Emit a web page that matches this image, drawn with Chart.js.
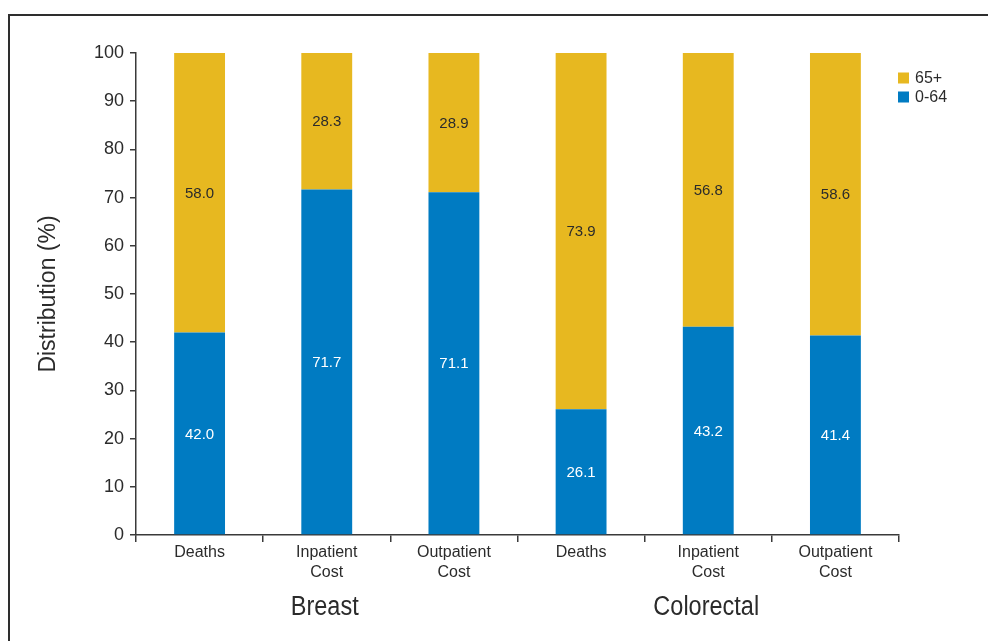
<!DOCTYPE html>
<html>
<head>
<meta charset="utf-8">
<script src="https://cdn.jsdelivr.net/npm/chart.js@4.4.1/dist/chart.umd.min.js"></script>
<style>
  html, body { margin: 0; padding: 0; background: #fff; }
  #wrap { width: 988px; height: 641px; position: relative; }
</style>
</head>
<body>
<div id="wrap"><canvas id="c" width="988" height="641"></canvas></div>
<script>
// Categories along the x axis (two-line labels)
const categories = [
  ['Deaths'], ['Inpatient', 'Cost'], ['Outpatient', 'Cost'],
  ['Deaths'], ['Inpatient', 'Cost'], ['Outpatient', 'Cost']
];
// Cancer site groups, each spanning three categories
const groups = ['Breast', 'Colorectal'];
const groupSize = 3;

// Share by age band (%)
const age0to64 = [42.0, 71.7, 71.1, 26.1, 43.2, 41.4];
const age65plus = [58.0, 28.3, 28.9, 73.9, 56.8, 58.6];

const yTicks = [0, 10, 20, 30, 40, 50, 60, 70, 80, 90, 100];

const BLUE = '#007BC2';
const GOLD = '#E7B820';
const AXIS = '#3a3a3a';
const TEXT = '#2b2b2b';
const SANS = '"Liberation Sans", Arial, Helvetica, sans-serif';

// Outer frame (top and left rules)
const framePlugin = {
  id: 'frame',
  beforeDraw(chart) {
    const ctx = chart.ctx;
    ctx.save();
    ctx.strokeStyle = '#2e2e2e';
    ctx.lineWidth = 2;
    ctx.beginPath();
    ctx.moveTo(9, 641);
    ctx.lineTo(9, 15);
    ctx.lineTo(988, 15);
    ctx.stroke();
    ctx.restore();
  }
};

// Value labels centered in each stacked segment
const valueLabels = {
  id: 'valueLabels',
  afterDatasetsDraw(chart) {
    const ctx = chart.ctx;
    ctx.save();
    ctx.font = '15px ' + SANS;
    ctx.textAlign = 'center';
    ctx.textBaseline = 'middle';
    chart.data.datasets.forEach((ds, di) => {
      const meta = chart.getDatasetMeta(di);
      meta.data.forEach((bar, i) => {
        const mid = (bar.y + bar.base) / 2;
        ctx.fillStyle = ds.labelColor;
        ctx.fillText(ds.data[i].toFixed(1), bar.x, mid + 1);
      });
    });
    ctx.restore();
  }
};

// Group names under the category labels (condensed lettering)
const groupLabels = {
  id: 'groupLabels',
  afterDraw(chart) {
    const x = chart.scales.x;
    const ctx = chart.ctx;
    const squeeze = 0.87;
    ctx.save();
    ctx.font = '27px ' + SANS;
    ctx.fillStyle = TEXT;
    ctx.textAlign = 'center';
    ctx.textBaseline = 'middle';
    groups.forEach((g, gi) => {
      const first = x.getPixelForValue(gi * groupSize);
      const last = x.getPixelForValue(gi * groupSize + groupSize - 1);
      const cx = (first + last) / 2;
      ctx.save();
      ctx.translate(cx - 2, 608);
      ctx.scale(squeeze, 1);
      ctx.fillText(g, 0, 0);
      ctx.restore();
    });
    ctx.restore();
  }
};

// Legend in the top-right corner, 65+ listed first
const sideLegend = {
  id: 'sideLegend',
  afterDraw(chart) {
    const ctx = chart.ctx;
    const items = chart.data.datasets.slice().reverse();
    ctx.save();
    ctx.font = '16px ' + SANS;
    ctx.textBaseline = 'middle';
    items.forEach((ds, k) => {
      const cy = 78 + k * 19;
      ctx.fillStyle = ds.backgroundColor;
      ctx.fillRect(898, cy - 5.5, 11, 11);
      ctx.fillStyle = TEXT;
      ctx.fillText(ds.label, 915, cy + 1);
    });
    ctx.restore();
  }
};

new Chart(document.getElementById('c'), {
  type: 'bar',
  data: {
    labels: categories,
    datasets: [
      { label: '0-64', data: age0to64, backgroundColor: BLUE, labelColor: '#ffffff' },
      { label: '65+', data: age65plus, backgroundColor: GOLD, labelColor: TEXT }
    ]
  },
  options: {
    responsive: false,
    animation: false,
    devicePixelRatio: 1,
    layout: { padding: { top: 53, right: 89, left: 0, bottom: 0 } },
    datasets: { bar: { categoryPercentage: 1, barPercentage: 0.4 } },
    plugins: {
      legend: { display: false },
      tooltip: { enabled: false }
    },
    scales: {
      x: {
        stacked: true,
        afterFit(s) { s.height = 106; },
        border: { display: true, color: AXIS, width: 1.5 },
        grid: { display: true, drawOnChartArea: false, drawTicks: true, tickLength: 7, color: AXIS, lineWidth: 1.5, offset: true },
        ticks: { color: TEXT, font: { family: SANS, size: 16, lineHeight: 1.25 }, padding: 1, maxRotation: 0, autoSkip: false }
      },
      y: {
        stacked: true,
        min: 0,
        max: 100,
        afterFit(s) { s.width = 136; },
        afterBuildTicks(s) { s.ticks = yTicks.map(v => ({ value: v })); },
        border: { display: true, color: AXIS, width: 1.5 },
        grid: { display: true, drawOnChartArea: false, drawTicks: true, tickLength: 6, color: AXIS, lineWidth: 1.5 },
        ticks: { color: TEXT, font: { family: SANS, size: 18 }, padding: 6 },
        title: {
          display: true,
          text: 'Distribution (%)',
          color: TEXT,
          font: { family: SANS, size: 23 },
          padding: { top: 35, bottom: 0 }
        }
      }
    }
  },
  plugins: [framePlugin, valueLabels, groupLabels, sideLegend]
});
</script>
</body>
</html>
